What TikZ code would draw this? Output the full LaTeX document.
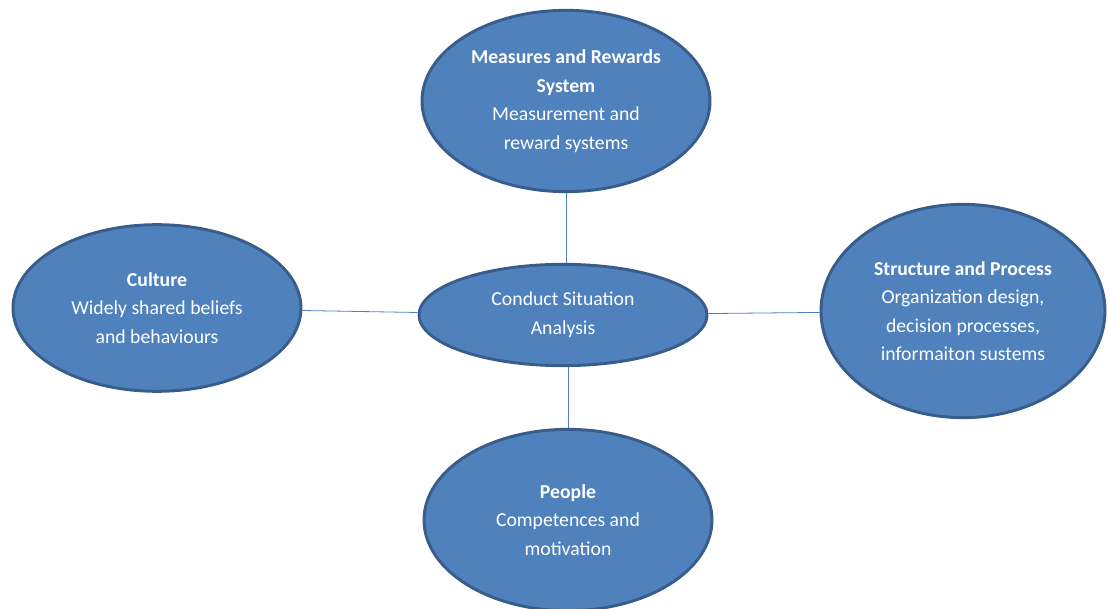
\documentclass[tikz,border=0pt]{standalone}
\usepackage{fontspec}
\setmainfont{Carlito}
\usepackage{tikz}
\usetikzlibrary{positioning,shapes.geometric}
\definecolor{fillblue}{HTML}{4F81BD}
\definecolor{edgeblue}{HTML}{385D8A}

\begin{document}
\begin{tikzpicture}
[x=0.75pt,y=-0.75pt,
e/.style={ellipse,draw=edgeblue,fill=fillblue,line width=2.2pt,inner sep=0pt,
  text=white,align=center,font=\fontsize{14.8}{21.4}\selectfont},
l/.style={fillblue,line width=0.6pt}]
\useasboundingbox (0,0) rectangle (1108,609);
\node[e,minimum width=216pt,minimum height=76pt] (c) at (563,315) {Conduct Situation\\Analysis};
\node[e,minimum width=216pt,minimum height=136pt] (t) at (566,101) {\textbf{Measures and Rewards}\\\textbf{System}\\Measurement and\\reward systems};
\node[e,minimum width=216pt,minimum height=125pt] (l) at (157,308) {\textbf{Culture}\\Widely shared beliefs\\and behaviours};
\node[e,minimum width=213pt,minimum height=160pt] (r) at (963,311) {\textbf{Structure and Process}\\Organization design,\\decision processes,\\informaiton sustems};
\node[e,minimum width=216pt,minimum height=136pt] (b) at (568,520) {\textbf{People}\\Competences and\\motivation};
\draw[l] (t) -- (t |- c.north);
\draw[l] (l) -- (c);
\draw[l] (c) -- (r);
\draw[l] (b |- c.south) -- (b);
\end{tikzpicture}
\end{document}
